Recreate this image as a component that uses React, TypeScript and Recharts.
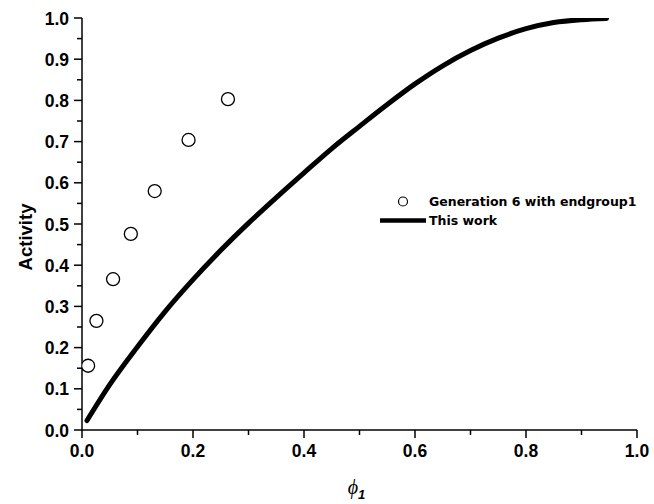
import React from "react";
import { ComposedChart, Scatter, Line, XAxis, YAxis } from "recharts";

// Generation 6 with endgroup1 (open circles)
const GEN6_PHI = [0.011, 0.026, 0.056, 0.088, 0.131, 0.192, 0.263];
const GEN6_ACTIVITY = [0.156, 0.265, 0.366, 0.476, 0.58, 0.704, 0.803];

// This work (thick curve)
const WORK_PHI = [0.009, 0.05, 0.1, 0.15, 0.2, 0.25, 0.3, 0.35, 0.4, 0.45, 0.5, 0.55, 0.6, 0.65, 0.7, 0.75, 0.8, 0.85, 0.9, 0.945];
const WORK_ACTIVITY = [0.023, 0.11, 0.202, 0.288, 0.365, 0.436, 0.502, 0.564, 0.624, 0.683, 0.737, 0.79, 0.84, 0.884, 0.921, 0.951, 0.974, 0.989, 0.996, 0.999];

const X_TICKS = [0, 0.1, 0.2, 0.3, 0.4, 0.5, 0.6, 0.7, 0.8, 0.9, 1.0];
const Y_TICKS = [0, 0.05, 0.1, 0.15, 0.2, 0.25, 0.3, 0.35, 0.4, 0.45, 0.5, 0.55, 0.6, 0.65, 0.7, 0.75, 0.8, 0.85, 0.9, 0.95, 1.0];

const gen6 = GEN6_PHI.map((x, i) => ({ x, y: GEN6_ACTIVITY[i] }));
const work = WORK_PHI.map((x, i) => ({ x, y: WORK_ACTIVITY[i] }));

const FONT = "'Liberation Sans', Arial, sans-serif";

// eslint-disable-next-line @typescript-eslint/no-explicit-any
function XTick({ x, y, payload }: any) {
  const v = payload.value;
  const major = Math.round(v * 10) % 2 === 0;
  return (
    <g>
      <line x1={x} y1={y} x2={x} y2={y + (major ? 8 : 5)} stroke="#000" strokeWidth={1.5} />
      {major && (
        <text x={x} y={y + 27} textAnchor="middle" fontSize={17.5} fontWeight="bold" fontFamily={FONT} fill="#000">
          {v.toFixed(1)}
        </text>
      )}
    </g>
  );
}

// eslint-disable-next-line @typescript-eslint/no-explicit-any
function YTick({ x, y, payload }: any) {
  const v = payload.value;
  const major = Math.round(v * 100) % 10 === 0;
  return (
    <g>
      <line x1={x} y1={y} x2={x - (major ? 8 : 5)} y2={y} stroke="#000" strokeWidth={1.5} />
      {major && (
        <text x={x - 13} y={y + 6.5} textAnchor="end" fontSize={17.5} fontWeight="bold" fontFamily={FONT} fill="#000">
          {v.toFixed(1)}
        </text>
      )}
    </g>
  );
}

// eslint-disable-next-line @typescript-eslint/no-explicit-any
function Circle({ cx, cy }: any) {
  return <circle cx={cx} cy={cy} r={6.5} fill="#fff" stroke="#000" strokeWidth={1.3} />;
}

function LegendBox() {
  const text = { fontFamily: "'DejaVu Sans', Verdana, sans-serif", fontWeight: "bold" as const, fontSize: 12.5 };
  return (
    <div style={{ position: "absolute", left: 380, top: 192, width: 274, lineHeight: "19px" }}>
      <div style={{ display: "flex", alignItems: "center" }}>
        <svg width={49} height={19}>
          <circle cx={23} cy={9.5} r={4.5} fill="#fff" stroke="#000" strokeWidth={1.2} />
        </svg>
        <span style={text}>Generation 6 with endgroup1</span>
      </div>
      <div style={{ display: "flex", alignItems: "center" }}>
        <svg width={49} height={19}>
          <line x1={0} y1={9.5} x2={46} y2={9.5} stroke="#000" strokeWidth={4.5} />
        </svg>
        <span style={text}>This work</span>
      </div>
    </div>
  );
}

export default function App() {
  return (
    <div style={{ position: "absolute", left: 0, top: 0, width: 654, height: 504, background: "#fff" }}>
      <ComposedChart width={654} height={504} margin={{ top: 18, right: 17, bottom: 0, left: 0 }}>
        <XAxis
          type="number"
          dataKey="x"
          domain={[0, 1]}
          ticks={X_TICKS}
          interval={0}
          tickSize={0}
          tickMargin={0}
          tickLine={false}
          tick={<XTick />}
          height={74}
          axisLine={{ stroke: "#000", strokeWidth: 1.5 }}
          allowDataOverflow
          label={({ viewBox }: any) => (
            <text
              x={viewBox.x + viewBox.width / 2 - 3}
              y={viewBox.y + 64}
              textAnchor="middle"
              fontFamily="'Liberation Serif', 'Times New Roman', serif"
              fontSize={20}
              fill="#000"
            >
              <tspan fontStyle="italic">ϕ</tspan>
              <tspan fontSize={13} dy={5} fontStyle="italic" fontFamily={FONT} fontWeight="bold">1</tspan>
            </text>
          )}
        />
        <YAxis
          type="number"
          dataKey="y"
          domain={[0, 1]}
          ticks={Y_TICKS}
          interval={0}
          tickSize={0}
          tickMargin={0}
          tickLine={false}
          tick={<YTick />}
          width={82}
          axisLine={{ stroke: "#000", strokeWidth: 1.5 }}
          allowDataOverflow
          label={({ viewBox }: any) => {
            const cx = 25;
            const cy = viewBox.y + viewBox.height / 2 + 13;
            return (
              <text
                x={cx}
                y={cy}
                transform={`rotate(-90, ${cx}, ${cy})`}
                textAnchor="middle"
                dominantBaseline="central"
                fontFamily={FONT}
                fontWeight="bold"
                fontSize={18.5}
                fill="#000"
              >
                Activity
              </text>
            );
          }}
        />
        <Line
          data={work}
          dataKey="y"
          type="monotone"
          stroke="#000"
          strokeWidth={5}
          strokeLinecap="round"
          dot={false}
          activeDot={false}
          isAnimationActive={false}
          legendType="none"
        />
        <Scatter data={gen6} dataKey="y" shape={<Circle />} isAnimationActive={false} legendType="none" />
      </ComposedChart>
      <LegendBox />
    </div>
  );
}
